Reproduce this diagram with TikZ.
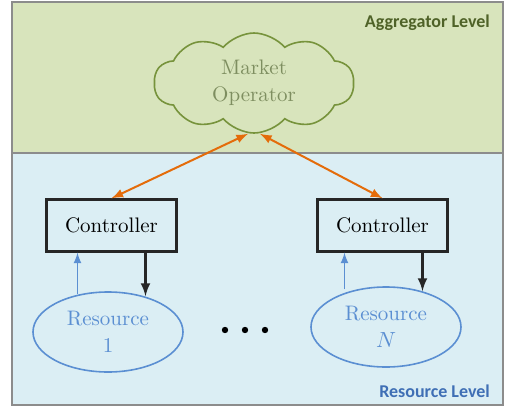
\documentclass[tikz,border=0pt]{standalone}
\usepackage{fontspec}
\newfontfamily\levelfont{Carlito}
\usetikzlibrary{shapes.symbols,shapes.geometric,arrows}
\definecolor{aggbg}{HTML}{D8E4BC}
\definecolor{resbg}{HTML}{DBEEF4}
\definecolor{frame}{HTML}{8C8C8C}
\definecolor{cloudline}{HTML}{77933C}
\definecolor{cloudtext}{HTML}{7E8E60}
\definecolor{aggtext}{HTML}{4F6228}
\definecolor{restext}{HTML}{3F6FB5}
\definecolor{linkorange}{HTML}{E46C0A}
\definecolor{resblue}{HTML}{5B8FD2}
\definecolor{ctrlline}{HTML}{262626}
\tikzset{
	ctrl/.style={draw=ctrlline,line width=1.2pt,minimum width=65pt,minimum height=26pt,font=\rmfamily\fontsize{10.5}{13.5}\selectfont},
	res/.style={ellipse,draw=resblue,line width=0.8pt,minimum width=75pt,minimum height=40pt,inner sep=0pt,align=center,text=resblue,font=\rmfamily\fontsize{10.5}{13.5}\selectfont},
	level/.style={font=\levelfont\bfseries\fontsize{9}{11}\selectfont,anchor=east}
}
\begin{document}
\begin{tikzpicture}[x=0.5pt,y=-0.5pt]
	\useasboundingbox (0,0) rectangle (515,413);
	\draw[frame,fill=aggbg,line width=0.8pt] (12,2) rectangle (503,153);
	\draw[frame,fill=resbg,line width=0.8pt] (12,153) rectangle (503,405);
	\node[level,text=aggtext] (agg) at (497,23) {Aggregator Level};
	\node[level,text=restext] (reslevel) at (497,391) {Resource Level};
	\node[cloud,cloud puffs=10,cloud puff arc=100,aspect=2,draw=cloudline,line width=0.8pt,minimum width=100pt,minimum height=50pt,inner sep=0pt,align=center,text=cloudtext,font=\rmfamily\fontsize{10.5}{13.5}\selectfont] (market) at (254,83) {Market\\Operator};
	\node[ctrl] (ctrl1) at (111.5,225.5) {Controller};
	\node[ctrl] (ctrl2) at (382.5,225.5) {Controller};
	\node[res] (res1) at (108,332) {Resource\\1};
	\node[res] (res2) at (386,327) {Resource\\$N$};
	\draw[latex-latex,linkorange,line width=1pt] ([xshift=-3pt]market.south) -- (ctrl1.north);
	\draw[latex-latex,linkorange,line width=1pt] ([xshift=3pt]market.south) -- (ctrl2.north);
	\draw[-latex,ctrlline,line width=1.2pt] ([xshift=17pt]ctrl1.south) -- ([xshift=17pt]ctrl1.south |- res1.45);
	\draw[-latex,ctrlline,line width=1.2pt] ([xshift=20pt]ctrl2.south) -- ([xshift=20pt]ctrl2.south |- res2.45);
	\draw[-latex,resblue,line width=0.8pt] ([xshift=-17pt]ctrl1.south |- res1.128) -- ([xshift=-17pt]ctrl1.south);
	\draw[-latex,resblue,line width=0.8pt] ([xshift=-19pt]ctrl2.south |- res2.128) -- ([xshift=-19pt]ctrl2.south);
	\fill (225,330) circle (3.2) (245,330) circle (3.2) (265,330) circle (3.2);
\end{tikzpicture}
\end{document}
